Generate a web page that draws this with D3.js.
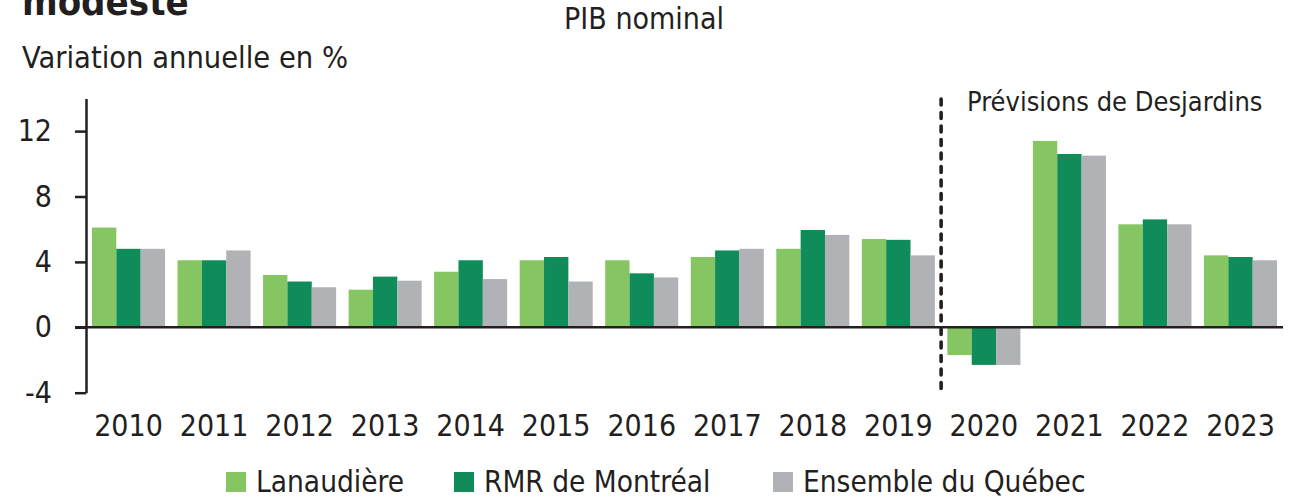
<!DOCTYPE html>
<html>
<head>
<meta charset="utf-8">
<script src="https://cdn.jsdelivr.net/npm/d3@7"></script>
<style>
  body { margin: 0; background: #fff; }
  text { font-family: "DejaVu Sans Condensed", "DejaVu Sans", sans-serif; font-stretch: condensed; fill: #231f20; }
</style>
</head>
<body>
<script>
// Data
const years = ["2010", "2011", "2012", "2013", "2014", "2015", "2016", "2017", "2018", "2019", "2020", "2021", "2022", "2023"];
const seriesNames = ["Lanaudière", "RMR de Montréal", "Ensemble du Québec"];
const lanaudiere = [6.1, 4.1, 3.2, 2.3, 3.4, 4.1, 4.1, 4.3, 4.8, 5.4, -1.7, 11.4, 6.3, 4.4];
const montreal   = [4.8, 4.1, 2.8, 3.1, 4.1, 4.3, 3.3, 4.7, 5.95, 5.35, -2.3, 10.6, 6.6, 4.3];
const quebec     = [4.8, 4.7, 2.45, 2.85, 2.95, 2.8, 3.05, 4.8, 5.65, 4.4, -2.3, 10.5, 6.3, 4.1];
const yTicks = [-4, 0, 4, 8, 12];
const forecastStart = "2020";

const colors = ["#86c662", "#0f8c59", "#b1b2b5"];
const ink = "#231f20";

const width = 1301, height = 498;

const svg = d3.select("body")
    .append("svg")
    .attr("width", width)
    .attr("height", height);

// scales
const x0 = d3.scaleBand()
    .domain(years)
    .range([86, 1283])
    .paddingInner(0.146)
    .paddingOuter(0.07);

const x1 = d3.scaleBand()
    .domain(seriesNames)
    .range([0, x0.bandwidth()]);

const y = d3.scaleLinear()
    .domain([-4, 14])
    .range([392.7, 98.4]);

// titles (the heading is cut at the top edge, as in the original)
svg.append("text")
    .attr("x", 22).attr("y", 15)
    .style("font-size", "38px")
    .style("font-weight", "bold")
    .text("modeste");

svg.append("text")
    .attr("x", 22).attr("y", 68)
    .style("font-size", "30.5px")
    .text("Variation annuelle en %");

svg.append("text")
    .attr("x", 644).attr("y", 29)
    .attr("text-anchor", "middle")
    .style("font-size", "30px")
    .text("PIB nominal");

// bars
const rows = years.map((yr, i) => ({
    year: yr,
    values: [lanaudiere[i], montreal[i], quebec[i]]
}));

const groups = svg.append("g")
    .selectAll("g")
    .data(rows)
    .join("g")
    .attr("transform", d => `translate(${x0(d.year)},0)`);

groups.selectAll("rect")
    .data(d => d.values.map((v, j) => ({ key: seriesNames[j], value: v, idx: j })))
    .join("rect")
    .attr("x", d => x1(d.key))
    .attr("width", x1.bandwidth())
    .attr("y", d => y(Math.max(0, d.value)))
    .attr("height", d => Math.abs(y(d.value) - y(0)))
    .attr("fill", d => colors[d.idx]);

// y axis
const yAxis = svg.append("g")
    .attr("transform", "translate(86,0)")
    .call(d3.axisLeft(y)
        .tickValues(yTicks)
        .tickFormat(d => String(d))
        .tickSize(11).tickSizeOuter(0).tickPadding(23));

yAxis.select(".domain").attr("stroke", ink).attr("stroke-width", 2.5);
yAxis.selectAll(".tick line").attr("stroke", ink).attr("stroke-width", 2.5);
yAxis.selectAll(".tick text")
    .style("font-size", "30px")
    .attr("fill", ink);

// zero line
svg.append("line")
    .attr("x1", 75).attr("x2", 1283)
    .attr("y1", y(0)).attr("y2", y(0))
    .attr("stroke", ink)
    .attr("stroke-width", 2.5);

// x labels
const xAxis = svg.append("g")
    .attr("transform", "translate(0,404)")
    .call(d3.axisBottom(x0).tickSize(0).tickPadding(0));
xAxis.select(".domain").remove();
xAxis.selectAll(".tick text")
    .attr("dy", "1.08em")
    .style("font-size", "30px")
    .attr("fill", ink);

// forecast divider
const divX = x0(forecastStart) - x0.step() * x0.paddingInner() / 2;
svg.append("line")
    .attr("x1", divX).attr("x2", divX)
    .attr("y1", 99).attr("y2", 392)
    .attr("stroke", ink)
    .attr("stroke-width", 3.6)
    .attr("stroke-linecap", "round")
    .attr("stroke-dasharray", "6,7.5");

svg.append("text")
    .attr("x", 967).attr("y", 111)
    .style("font-size", "27px")
    .text("Prévisions de Desjardins");

// legend
const legendX = [226, 454, 773];
const legend = svg.append("g")
    .selectAll("g")
    .data(seriesNames)
    .join("g")
    .attr("transform", (d, i) => `translate(${legendX[i]},472)`);

legend.append("rect")
    .attr("width", 20).attr("height", 20)
    .attr("fill", (d, i) => colors[i]);

legend.append("text")
    .attr("x", 30).attr("y", 20)
    .style("font-size", "29.5px")
    .text(d => d);
</script>
</body>
</html>
